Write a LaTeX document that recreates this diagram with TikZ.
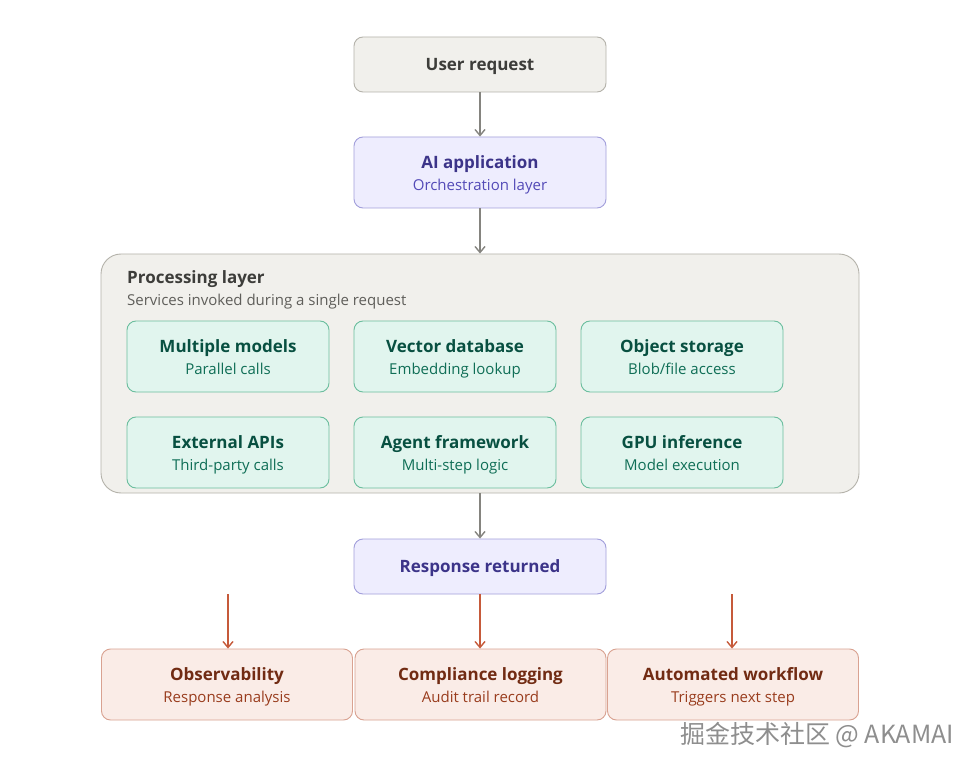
\documentclass[tikz,border=0pt]{standalone}
\usepackage{fontspec}
\setmainfont{Open Sans}
\newfontfamily\cjk{Noto Sans CJK SC}
\usetikzlibrary{arrows.meta}
\definecolor{gfill}{HTML}{F1F0EC}\definecolor{gdraw}{HTML}{B4B2AA}\definecolor{gtext}{HTML}{3D3D3A}\definecolor{gsub}{HTML}{5F5E5A}
\definecolor{pfill}{HTML}{EEEDFE}\definecolor{pdraw}{HTML}{A29FDB}\definecolor{ptext}{HTML}{3C3489}\definecolor{psub}{HTML}{534AB7}
\definecolor{tfill}{HTML}{E1F5EE}\definecolor{tdraw}{HTML}{6BBE9E}\definecolor{ttext}{HTML}{085041}\definecolor{tsub}{HTML}{0F6E56}
\definecolor{ofill}{HTML}{FAECE7}\definecolor{odraw}{HTML}{D9A291}\definecolor{otext}{HTML}{712B13}\definecolor{osub}{HTML}{993C1D}
\definecolor{garrow}{HTML}{85847F}\definecolor{oarrow}{HTML}{C65A3A}\definecolor{wmk}{HTML}{8E8E8E}
\tikzset{
  box/.style={draw, rounded corners=9pt, line width=0.9pt, inner sep=0pt, align=center},
  grey/.style={box, fill=gfill, draw=gdraw, text=gtext},
  purp/.style={box, fill=pfill, draw=pdraw, text=ptext},
  teal/.style={box, fill=tfill, draw=tdraw, text=ttext},
  oran/.style={box, fill=ofill, draw=odraw, text=otext},
  ttl/.style={font=\fontsize{17}{20}\selectfont\bfseries, text height=12.4pt, text depth=0pt, inner sep=0pt},
  sub/.style={font=\fontsize{15}{18}\selectfont, text height=10.8pt, text depth=0pt, inner sep=0pt},
  garr/.style={draw=garrow, line width=1.4pt, -{Straight Barb[length=6pt,width=10pt,line width=1.4pt]}},
  oarr/.style={draw=oarrow, line width=1.4pt, -{Straight Barb[length=6pt,width=10pt,line width=1.4pt]}},
}
\begin{document}
\begin{tikzpicture}[x=1pt,y=-1pt]
\useasboundingbox[fill=white] (0,0) rectangle (980,770);
% top
\node[grey, minimum width=252pt, minimum height=55pt] (user) at (480,64.5) {};
\node[ttl, text=gtext] (usert) at (480,64.5) {User request};
\node[purp, minimum width=252pt, minimum height=71pt] (app) at (480,172.5) {};
\node[ttl, text=ptext] (appt) at (480,162.5) {AI application};
\node[sub, text=psub] (apps) at (480,185.5) {Orchestration layer};
% processing layer
\node[draw=gdraw, fill=gfill, line width=0.9pt, rounded corners=20pt, minimum width=758pt, minimum height=239pt, inner sep=0pt] (proc) at (480,373.5) {};
\node[anchor=west, ttl, text=gtext] (proct) at (127,277) {Processing layer};
\node[anchor=west, sub, text=gsub] (procs) at (127,300) {Services invoked during a single request};
% inner boxes
\foreach \n/\x/\y/\t/\s in {
  mm/228/356.5/Multiple models/Parallel calls,
  vd/455/356.5/Vector database/Embedding lookup,
  os/682/356.5/Object storage/{Blob/file access},
  ea/228/452.5/External APIs/Third-party calls,
  af/455/452.5/Agent framework/Multi-step logic,
  gi/682/452.5/GPU inference/Model execution}{
  \node[teal, minimum width=202pt, minimum height=71pt] (\n) at (\x,\y) {};
  \node[ttl, text=ttext] (\n t) at (\x,\y-10) {\t};
  \node[sub, text=tsub] (\n s) at (\x,\y+13) {\s};
}
% response
\node[purp, minimum width=252pt, minimum height=55pt] (resp) at (480,566.5) {};
\node[ttl, text=ptext] (respt) at (480,566.5) {Response returned};
% bottom
\foreach \n/\x/\t/\s in {
  obs/227/Observability/Response analysis,
  comp/480.5/Compliance logging/Audit trail record,
  auto/733/Automated workflow/Triggers next step}{
  \node[oran, minimum width=251pt, minimum height=71pt] (\n) at (\x,684.5) {};
  \node[ttl, text=otext] (\n t) at (\x,674.5) {\t};
  \node[sub, text=osub] (\n s) at (\x,697.5) {\s};
}
% arrows
\draw[garr] (user.south) -- (app.north);
\draw[garr] (app.south) -- (proc.north);
\draw[garr] (proc.south) -- (resp.north);
\coordinate (o1) at (228,594);
\coordinate (o2) at (480,594);
\coordinate (o3) at (732,594);
\draw[oarr] (o1) -- (obs.north -| o1);
\draw[oarr] (resp.south) -- (comp.north -| o2);
\draw[oarr] (o3) -- (auto.north -| o3);
% watermark
\node[font=\cjk\fontsize{25}{27}\selectfont, text=wmk] (wm) at (817,735) {掘金技术社区 @ AKAMAI};
\end{tikzpicture}
\end{document}
